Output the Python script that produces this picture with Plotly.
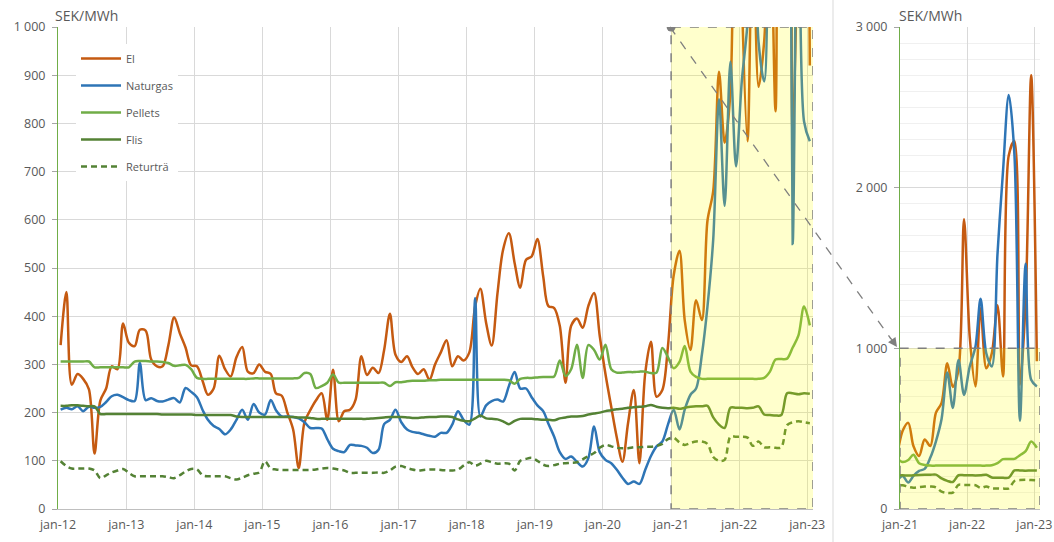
import pandas as pd
import plotly.graph_objects as go

# ---------------- data (monthly, SEK/MWh) ----------------
years = list(range(2012, 2024))
tick_labels = [f"jan-{str(y)[2:]}" for y in years]
# monthly observations, plotted at mid-month
months = pd.date_range("2012-01-01", "2023-01-01", freq="MS") + pd.Timedelta(days=14)

el = [
    340, 450, 258, 280, 270, 248, 115, 225, 250, 296, 290, 385,   # 2012
    345, 338, 372, 370, 310, 296, 296, 340, 398, 365, 335, 298,   # 2013
    296, 265, 237, 250, 318, 290, 275, 315, 336, 285, 282, 300,   # 2014
    285, 280, 240, 235, 200, 165, 85, 180, 205, 225, 240, 185,    # 2015
    289, 182, 203, 206, 227, 317, 278, 293, 282, 330, 405, 320,   # 2016
    305, 317, 295, 280, 290, 268, 300, 325, 350, 296, 317, 308,   # 2017
    325, 420, 457, 386, 339, 448, 538, 572, 510, 459, 517, 524,   # 2018
    560, 483, 421, 417, 380, 262, 380, 395, 376, 421, 448, 360,   # 2019
    280, 212, 150, 98, 178, 247, 95, 281, 347, 233, 247, 337,     # 2020
    485, 536, 392, 330, 433, 392, 598, 660, 907, 760, 866, 1804,  # 2021
    1072, 763, 1250, 876, 969, 1268, 825, 2200, 2290, 773, 1300, 2700,  # 2022
    920,                                                          # 2023
]
naturgas = [
    206, 210, 207, 213, 203, 212, 210, 212, 222, 234, 237, 232,   # 2012
    226, 224, 303, 226, 230, 224, 223, 227, 230, 221, 251, 243,   # 2013
    232, 205, 185, 172, 166, 155, 165, 185, 206, 185, 218, 200,   # 2014
    196, 226, 205, 192, 192, 191, 188, 180, 168, 168, 167, 145,   # 2015
    125, 120, 118, 133, 132, 131, 127, 116, 123, 176, 185, 206,   # 2016
    180, 165, 160, 158, 155, 152, 150, 158, 158, 175, 203, 185,   # 2017
    175, 438, 192, 215, 224, 227, 223, 255, 284, 250, 250, 232,   # 2018
    215, 203, 177, 150, 118, 104, 109, 98, 88, 105, 171, 118,     # 2019
    102, 95, 82, 65, 52, 57, 52, 81, 110, 130, 140, 175,          # 2020
    206, 165, 206, 237, 250, 320, 420, 560, 850, 629, 928, 711,   # 2021
    887, 1010, 1309, 969, 887, 1588, 2103, 2577, 2206, 550, 1526, 804,  # 2022
    763,                                                          # 2023
]
pellets = [
    306, 306, 306, 306, 306, 306, 294, 294, 294, 294, 294, 294,   # 2012
    294, 306, 307, 307, 306, 306, 305, 303, 297, 298, 299, 290,   # 2013
    272, 270, 270, 270, 270, 270, 270, 270, 270, 270, 271, 271,   # 2014
    271, 271, 271, 271, 271, 271, 272, 282, 280, 251, 255, 262,   # 2015
    279, 262, 262, 262, 262, 262, 262, 262, 262, 262, 255, 263,   # 2016
    263, 265, 266, 266, 266, 267, 267, 268, 268, 268, 268, 268,   # 2017
    268, 268, 268, 268, 268, 268, 268, 267, 260, 270, 272, 272,   # 2018
    273, 274, 274, 275, 308, 276, 290, 341, 272, 340, 330, 310,   # 2019
    341, 290, 283, 283, 284, 284, 285, 285, 282, 283, 334, 315,   # 2020
    292, 305, 338, 285, 274, 270, 270, 270, 270, 270, 270, 270,   # 2021
    270, 270, 270, 270, 272, 285, 310, 311, 312, 335, 360, 420,   # 2022
    381,                                                          # 2023
]
flis = [
    214, 214, 215, 215, 214, 213, 213, 197, 197, 197, 197, 197,   # 2012
    197, 197, 197, 197, 197, 197, 196, 196, 196, 196, 196, 196,   # 2013
    195, 195, 195, 195, 195, 195, 195, 192, 191, 191, 191, 191,   # 2014
    191, 191, 191, 191, 191, 191, 190, 190, 189, 187, 187, 187,   # 2015
    187, 187, 187, 187, 187, 187, 187, 188, 189, 190, 191, 191,   # 2016
    191, 190, 189, 189, 190, 191, 191, 192, 192, 191, 186, 183,   # 2017
    182, 188, 194, 188, 187, 186, 182, 176, 183, 187, 187, 187,   # 2018
    186, 185, 185, 184, 188, 190, 192, 192, 193, 196, 198, 200,   # 2019
    203, 205, 207, 208, 210, 211, 212, 213, 216, 212, 210, 209,   # 2020
    210, 208, 210, 212, 213, 213, 214, 190, 175, 168, 210, 210,   # 2021
    210, 209, 210, 213, 196, 195, 194, 195, 240, 240, 238, 240,   # 2022
    239,                                                          # 2023
]
returtra = [
    99, 89, 84, 84, 84, 84, 80, 64, 70, 76, 80, 83,               # 2012
    75, 68, 68, 68, 68, 68, 68, 66, 64, 70, 78, 83,               # 2013
    82, 70, 68, 68, 68, 68, 64, 61, 65, 70, 73, 76,               # 2014
    99, 84, 82, 81, 81, 81, 81, 81, 81, 82, 84, 85,               # 2015
    84, 82, 80, 75, 75, 75, 75, 75, 76, 75, 80, 88,               # 2016
    89, 85, 82, 80, 81, 82, 82, 81, 80, 80, 82, 90,               # 2017
    97, 90, 94, 100, 97, 94, 95, 94, 80, 100, 104, 106,           # 2018
    100, 92, 89, 91, 94, 95, 96, 97, 103, 110, 116, 127,          # 2019
    133, 130, 127, 126, 126, 128, 128, 129, 129, 131, 135, 145,   # 2020
    148, 138, 133, 137, 140, 140, 135, 108, 100, 102, 150, 150,   # 2021
    150, 148, 131, 140, 128, 128, 127, 128, 174, 180, 182, 180,   # 2022
    178,                                                          # 2023
]

series_names = ["El", "Naturgas", "Pellets", "Flis", "Returträ"]
series_values = [el, naturgas, pellets, flis, returtra]
series_colors = ["#C55A11", "#2E75B6", "#70AD47", "#548235", "#548235"]
series_dash = ["solid", "solid", "solid", "solid", "6px,4px"]

# highlighted period (zoomed in the right panel)
hl_start, hl_end, hl_top = "2021-01-01", "2023-02-01", 1000
main_range = ["2012-01-01", "2023-02-01"]
inset_ticks = [2021, 2022, 2023]

# ---------------- figure geometry (page pixels) ----------------
W, H = 1054, 542
ML, MR, MT, MB = 58, 14, 27, 33
PW, PH = W - ML - MR, H - MT - MB


def px_x(p):
    return (p - ML) / PW


def px_y(p):
    return (H - MB - p) / PH


FONT = "Open Sans, Liberation Sans, sans-serif"
GREY = "#595959"
GRID = "#d9d9d9"

fig = go.Figure()
for name, vals, col, dash in zip(series_names, series_values, series_colors, series_dash):
    fig.add_trace(go.Scatter(
        x=months, y=vals, name=name, mode="lines", legendgroup=name,
        line=dict(color=col, width=2.5, dash=dash, shape="spline", smoothing=0.9),
        xaxis="x", yaxis="y", hoverinfo="skip"))
for name, vals, col, dash in zip(series_names, series_values, series_colors, series_dash):
    fig.add_trace(go.Scatter(
        x=months, y=vals, name=name, mode="lines", legendgroup=name, showlegend=False,
        line=dict(color=col, width=2.5, dash=dash, shape="spline", smoothing=0.9),
        xaxis="x2", yaxis="y2", hoverinfo="skip"))

main_right = px_x(813)
inset_left = px_x(900)

fig.update_layout(
    width=W, height=H,
    margin=dict(l=ML, r=MR, t=MT, b=MB, autoexpand=False),
    paper_bgcolor="white", plot_bgcolor="white",
    separators=", ",
    font=dict(family=FONT, color=GREY, size=12),
    showlegend=True,
    legend=dict(x=px_x(76), y=px_y(44), xanchor="left", yanchor="top",
                bgcolor="white", borderwidth=0, font=dict(size=11, color=GREY),
                tracegroupgap=8, traceorder="grouped", itemwidth=40),
    xaxis=dict(domain=[0, main_right], type="date", range=main_range,
               tickvals=[f"{y}-01-01" for y in years], ticktext=tick_labels,
               showgrid=True, gridcolor=GRID, gridwidth=1,
               showline=True, linecolor="#bfbfbf", linewidth=1,
               ticks="", ticklabelstandoff=4, ticklabeloverflow="allow",
               tickfont=dict(size=12.5, color=GREY), zeroline=False),
    yaxis=dict(domain=[0, 1], range=[0, 1000], dtick=100, tickformat=",",
               showgrid=True, gridcolor=GRID, gridwidth=1,
               showline=True, linecolor="#70AD47", linewidth=1,
               ticks="outside", ticklen=5, tickcolor="#a6a6a6", ticklabelstandoff=4,
               tickfont=dict(size=12.5, color=GREY), zeroline=False),
    xaxis2=dict(domain=[inset_left, 1], type="date", range=[hl_start, hl_end], anchor="y2",
                tickvals=[f"{y}-01-01" for y in inset_ticks],
                ticktext=[f"jan-{str(y)[2:]}" for y in inset_ticks],
                showgrid=True, gridcolor=GRID, gridwidth=1,
                showline=True, linecolor="#bfbfbf", linewidth=1,
                ticks="", ticklabelstandoff=4, ticklabeloverflow="allow",
                tickfont=dict(size=12.5, color=GREY), zeroline=False),
    yaxis2=dict(domain=[0, 1], range=[0, 3000], dtick=1000, tickformat=",", anchor="x2",
                showgrid=True, gridcolor=GRID, gridwidth=1,
                minor=dict(dtick=100, showgrid=True, gridcolor="#f0f0f0", gridwidth=1),
                showline=True, linecolor="#70AD47", linewidth=1,
                ticks="outside", ticklen=5, tickcolor="#a6a6a6", ticklabelstandoff=4,
                tickfont=dict(size=12.5, color=GREY), zeroline=False),
)

shapes = []
for xr, yr in (("x", "y"), ("x2", "y2")):
    shapes.append(dict(type="rect", xref=xr, yref=yr, x0=hl_start, x1=hl_end, y0=0, y1=hl_top,
                       fillcolor="rgba(255,255,0,0.2)", layer="above",
                       line=dict(color="#7f7f7f", width=1.5, dash="dash")))
# corner dot
shapes.append(dict(type="circle", xref="x", yref="y", xsizemode="pixel", ysizemode="pixel",
                   xanchor=hl_start, yanchor=hl_top, x0=-4.5, x1=4.5, y0=-4.5, y1=4.5,
                   fillcolor="#7f7f7f", line=dict(width=0), layer="above"))
# dashed connector to the zoom panel
shapes.append(dict(type="line", xref="paper", yref="paper",
                   x0=px_x(670), y0=px_y(27), x1=px_x(891), y1=px_y(339),
                   line=dict(color="#7f7f7f", width=1.3, dash="dash")))
# divider between the panels
shapes.append(dict(type="line", xref="paper", yref="paper",
                   x0=px_x(833), x1=px_x(833), y0=px_y(542), y1=px_y(0),
                   line=dict(color="#d9d9d9", width=1)))
fig.update_layout(shapes=shapes)

fig.add_annotation(x=px_x(897), y=px_y(347), xref="paper", yref="paper", text="",
                   showarrow=True, arrowhead=2, arrowsize=1.4, arrowwidth=1.3,
                   arrowcolor="#7f7f7f", ax=-7, ay=-10)
fig.add_annotation(x=px_x(53), y=px_y(15), xref="paper", yref="paper", text="SEK/MWh",
                   showarrow=False, xanchor="left", yanchor="middle",
                   font=dict(size=14, color=GREY))
fig.add_annotation(x=px_x(897), y=px_y(15), xref="paper", yref="paper", text="SEK/MWh",
                   showarrow=False, xanchor="left", yanchor="middle",
                   font=dict(size=14, color=GREY))

fig.write_html("out.html", config={"displayModeBar": False, "staticPlot": True},
               post_script="document.body.style.margin='0';document.body.style.overflow='hidden';")
